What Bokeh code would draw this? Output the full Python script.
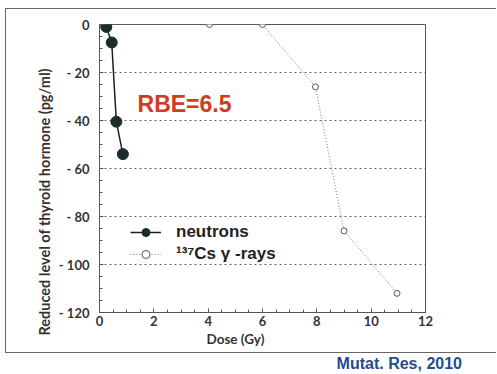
from bokeh.plotting import figure
from bokeh.layouts import column
from bokeh.models import (Label, SingleIntervalTicker, Legend, LegendItem, Range1d, Title, Div)
from bokeh.embed import file_html
from bokeh.resources import INLINE

# data
neutron_dose = [0.25, 0.45, 0.62, 0.86]
neutron_level = [-1, -7.5, -40.5, -54]
cs_dose = [0, 4.05, 6.0, 7.95, 9.0, 10.95]
cs_level = [0, 0, 0, -26, -86, -112]
y_ticks = [0, -20, -40, -60, -80, -100, -120]
y_tick_labels = ["0", "- 20", "- 40", "- 60", "- 80", "- 100", "- 120"]
x_ticks = [0, 2, 4, 6, 8, 10, 12]

FONT = "Lato"
AX = "#555555"

p = figure(width=491, height=345, output_backend="svg", toolbar_location=None,
           x_range=Range1d(0, 12), y_range=Range1d(-120, 0),
           min_border_left=93, min_border_right=72, min_border_top=15, min_border_bottom=42)
p.margin = (8, 0, 0, 5)
p.styles = {"border-top": "1px solid #666", "border-left": "1px solid #666",
            "border-bottom": "1px solid #666"}
p.background_fill_color = "white"
p.border_fill_color = "white"
p.outline_line_color = AX
p.outline_line_width = 1

for ax in (p.xaxis[0], p.yaxis[0]):
    ax.axis_line_color = AX
    ax.major_tick_line_color = AX
    ax.minor_tick_line_color = AX
    ax.major_tick_in = 4
    ax.major_tick_out = 0
    ax.minor_tick_in = 3
    ax.minor_tick_out = 0
    ax.major_label_text_font = FONT
    ax.major_label_text_font_style = "bold"
    ax.major_label_text_font_size = "13px"
    ax.major_label_text_color = "#333333"

p.xaxis[0].ticker = SingleIntervalTicker(interval=2, num_minor_ticks=4)
p.yaxis[0].ticker = SingleIntervalTicker(interval=20, num_minor_ticks=4)
p.yaxis[0].major_label_overrides = {t: s for t, s in zip(y_ticks, y_tick_labels)}
p.yaxis[0].major_label_standoff = 10
p.xaxis[0].major_label_standoff = 3

p.xgrid.grid_line_color = None
p.ygrid.grid_line_color = "#666666"
p.ygrid.grid_line_dash = "2 3"
p.ygrid.grid_line_width = 1

# series
cs_line = p.line(cs_dose, cs_level, line_color="#777777", line_width=1, line_dash="1 2")
cs_pts = p.scatter(cs_dose, cs_level, size=6, marker="circle", fill_color="white",
                   line_color="#555555", line_width=1)
n_line = p.line(neutron_dose, neutron_level, line_color="#1a1f1f", line_width=1.5)
n_pts = p.scatter(neutron_dose, neutron_level, size=11, marker="circle",
                  fill_color="#1c2b2b", line_color="#1c2b2b")

legend = Legend(items=[LegendItem(label="neutrons", renderers=[n_line, n_pts]),
                       LegendItem(label="¹³⁷Cs γ -rays", renderers=[cs_line, cs_pts])],
                location=(31, 48))
legend.background_fill_alpha = 0
legend.border_line_color = None
legend.label_text_font = "Liberation Sans"
legend.label_text_font_style = "bold"
legend.label_text_font_size = "17px"
legend.label_text_color = "#222222"
legend.glyph_width = 31
legend.label_standoff = 15
legend.spacing = 2
legend.padding = 0
legend.margin = 0
legend.label_height = 20
legend.glyph_height = 20
p.add_layout(legend)

# text annotations
p.add_layout(Label(x=1.4, y=-33, text="RBE=6.5", text_color="#d23b1e",
                   text_font="Liberation Sans", text_font_style="bold",
                   text_font_size="23px", text_baseline="middle"))

xlab = Title(text="Dose (Gy)", align="left", offset=107, standoff=0,
             text_font=FONT, text_font_style="bold", text_font_size="13.5px",
             text_color="#333333")
p.add_layout(xlab, "below")
ylab = Title(text="Reduced level of thyroid hormone (pg/ml)", align="left", offset=-23,
             standoff=6, text_font=FONT, text_font_style="bold", text_font_size="14.5px",
             text_color="#333333")
p.add_layout(ylab, "left")

cite = Div(text="Mutat. Res, 2010", width=491, height=17, margin=(2, 0, 0, 5),
           styles={"text-align": "right", "padding-right": "34px", "color": "#1f4e8c",
                   "font-family": "Liberation Sans", "font-weight": "bold",
                   "font-size": "16px", "line-height": "17px"})

layout = column(p, cite)
open("out.html", "w").write(file_html(layout, INLINE))
